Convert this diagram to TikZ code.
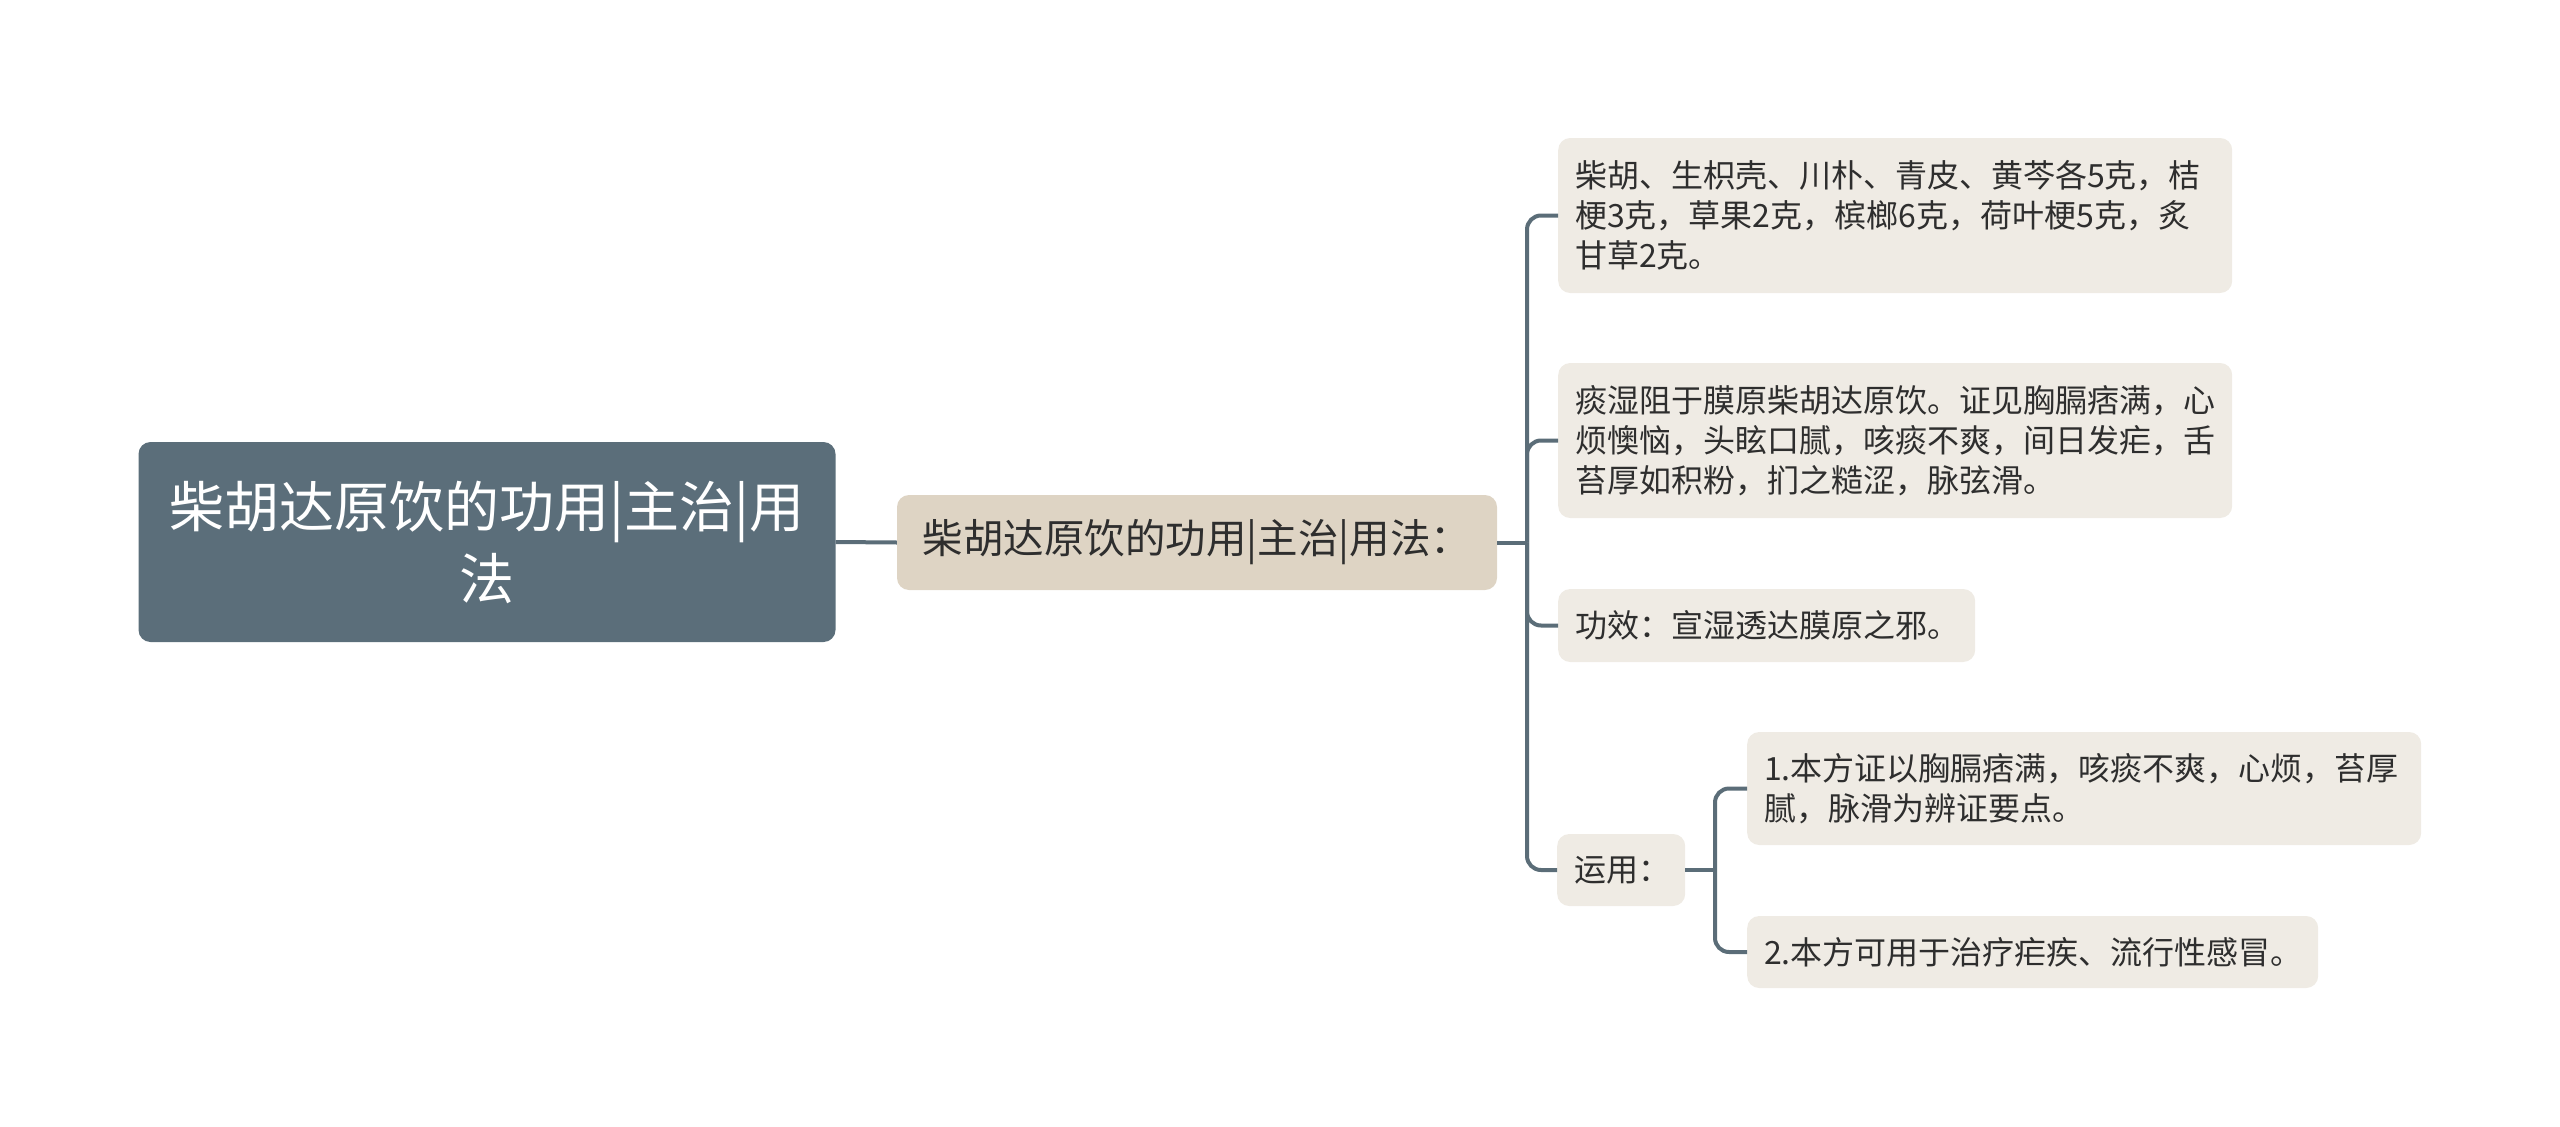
\documentclass[tikz,border=0pt]{standalone}
\usepackage{fontspec}
\setmainfont{Noto Sans CJK SC}
\definecolor{rootc}{HTML}{5B6E7A}
\definecolor{midc}{HTML}{DED4C4}
\definecolor{leafc}{HTML}{EFEBE4}
\definecolor{linec}{HTML}{5B6D78}
\definecolor{textc}{HTML}{2E2E2E}
\begin{document}
\begin{tikzpicture}[x=1pt,y=-1pt,
  rootbox/.style={fill=rootc, rounded corners=12pt, minimum width=697pt, minimum height=200pt,
    text=white, font=\fontsize{55}{72}\selectfont, align=center, inner sep=0pt},
  midbox/.style={fill=midc, rounded corners=12pt, minimum width=600pt, minimum height=95pt,
    text=textc, font=\fontsize{40.5}{50}\selectfont, inner sep=0pt},
  leafbox/.style={fill=leafc, rounded corners=12pt, text=textc, font=\fontsize{32}{40}\selectfont,
    align=left, inner xsep=17pt, inner ysep=0pt, anchor=west},
  conn/.style={draw=linec, line width=4pt, rounded corners=14pt}]
\useasboundingbox (0,0) rectangle (2560,1127);

\node[rootbox] (root) at (487,542) {柴胡达原饮的功用|主治|用\\法};
\node[midbox] (mid) at (1197,542.5) {柴胡达原饮的功用|主治|用法：};

\node[leafbox, text width=640pt, minimum height=155pt] (l1) at (1558,215.5)
  {柴胡、生枳壳、川朴、青皮、黄芩各5克，桔\\梗3克，草果2克，槟榔6克，荷叶梗5克，炙\\甘草2克。};
\node[leafbox, text width=640pt, minimum height=155pt] (l2) at (1558,440.5)
  {痰湿阻于膜原柴胡达原饮。证见胸膈痞满，心\\烦懊恼，头眩口腻，咳痰不爽，间日发疟，舌\\苔厚如积粉，扪之糙涩，脉弦滑。};
\node[leafbox, text width=383pt, minimum height=73pt] (l3) at (1558,625.5)
  {功效：宣湿透达膜原之邪。};
\node[leafbox, text width=94pt, minimum height=72pt] (l4) at (1557,870)
  {运用：};
\node[leafbox, text width=640pt, minimum height=113pt] (s1) at (1747,788.5)
  {1.本方证以胸膈痞满，咳痰不爽，心烦，苔厚\\腻，脉滑为辨证要点。};
\node[leafbox, text width=537pt, minimum height=72pt] (s2) at (1747,952)
  {2.本方可用于治疗疟疾、流行性感冒。};

\coordinate (j1) at (1527,542.5);
\coordinate (j2) at (1715,870);

\draw[conn] (root.east) -- (mid.west);
\draw[conn] (mid.east) -- (j1);
\draw[conn] (j1) |- (l1.west);
\draw[conn] (j1) |- (l2.west);
\draw[conn] (j1) |- (l3.west);
\draw[conn] (j1) |- (l4.west);
\draw[conn] (l4.east) -- (j2);
\draw[conn] (j2) |- (s1.west);
\draw[conn] (j2) |- (s2.west);
\end{tikzpicture}
\end{document}
